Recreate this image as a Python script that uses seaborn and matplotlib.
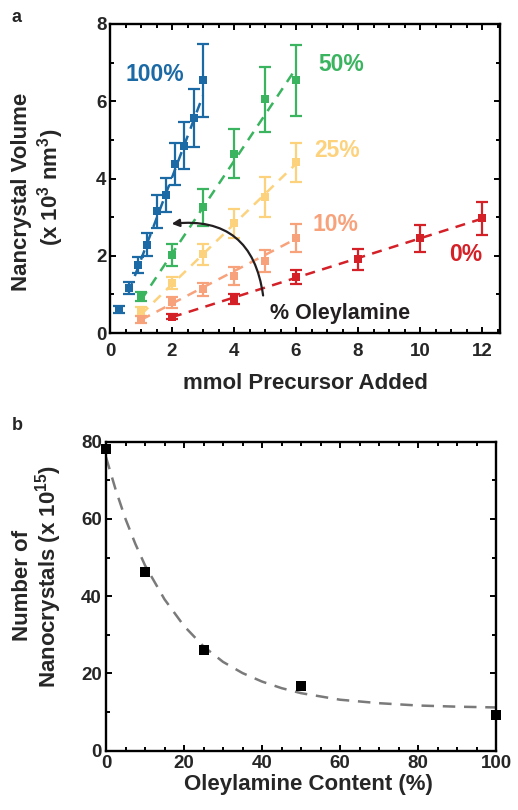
import numpy as np
import pandas as pd
import matplotlib
matplotlib.use("Agg")
import matplotlib.pyplot as plt
from matplotlib.ticker import MultipleLocator
from matplotlib.patches import FancyArrowPatch
import seaborn as sns

# ---------------- Data: panel a ----------------
x_100 = [0.3, 0.6, 0.9, 1.2, 1.5, 1.8, 2.1, 2.4, 2.7, 3.0]
y_100 = [0.62, 1.16, 1.76, 2.29, 3.15, 3.57, 4.38, 4.85, 5.56, 6.54]
e_100 = [0.09, 0.15, 0.21, 0.30, 0.42, 0.45, 0.55, 0.60, 0.75, 0.95]

x_50 = [1, 2, 3, 4, 5, 6]
y_50 = [0.94, 2.02, 3.25, 4.64, 6.05, 6.54]
e_50 = [0.12, 0.28, 0.48, 0.63, 0.84, 0.91]

x_25 = [1, 2, 3, 4, 5, 6]
y_25 = [0.55, 1.29, 2.04, 2.84, 3.53, 4.42]
e_25 = [0.12, 0.15, 0.27, 0.37, 0.52, 0.50]

x_10 = [1, 2, 3, 4, 5, 6]
y_10 = [0.35, 0.79, 1.13, 1.48, 1.87, 2.45]
e_10 = [0.10, 0.15, 0.17, 0.24, 0.29, 0.36]

x_0 = [2, 4, 6, 8, 10, 12]
y_0 = [0.42, 0.88, 1.44, 1.91, 2.45, 2.97]
e_0 = [0.07, 0.12, 0.18, 0.27, 0.34, 0.43]

# dashed fit lines (endpoints)
fit_100_x = [0.6, 3.0]
fit_100_y = [1.05, 6.15]
fit_50_x = [1.0, 6.0]
fit_50_y = [0.85, 6.85]
fit_25_x = [1.0, 6.0]
fit_25_y = [0.48, 4.38]
fit_10_x = [1.0, 6.0]
fit_10_y = [0.34, 2.44]
fit_0_x = [2.0, 12.0]
fit_0_y = [0.41, 2.96]

labels_a = ["100%", "50%", "25%", "10%", "0%"]

# ---------------- Data: panel b ----------------
ole_content = [0, 10, 25, 50, 100]
n_crystals = [78, 46.2, 26.1, 16.8, 9.3]
curve_x = [0, 2.5, 5, 7.5, 10, 15, 20, 25, 30, 35, 40, 45, 50, 60, 70, 80, 90, 100]
curve_y = [76, 67.5, 60, 53.6, 48, 39.2, 32.3, 27, 23, 20.1, 17.9, 16.2, 14.9, 13.2, 12.3, 11.7, 11.4, 11.2]

# ---------------- Style ----------------
sns.set_theme(style="ticks")
plt.rcParams["font.family"] = ["Liberation Sans", "DejaVu Sans"]
plt.rcParams["font.weight"] = "bold"
plt.rcParams["mathtext.fontset"] = "custom"
plt.rcParams["mathtext.rm"] = "Liberation Sans"
plt.rcParams["mathtext.it"] = "Liberation Sans:italic"
plt.rcParams["mathtext.bf"] = "Liberation Sans:bold"

BLUE = "#1b6aa5"
GREEN = "#3ab45f"
YELLOW = "#fdd27d"
SALMON = "#f8a27c"
RED = "#d42027"
DARK = "#231f20"

TICK_FS = 13.5
LABEL_FS = 16
PCT_FS = 16.5

fig = plt.figure(figsize=(5.18, 8.10), dpi=100)
fig.patch.set_facecolor("white")

W, H = 518.0, 810.0
axa = fig.add_axes([110 / W, 1 - 333 / H, 390 / W, 309 / H])
axb = fig.add_axes([106 / W, 1 - 750.7 / H, 390 / W, 309 / H])

def style_axes(ax, xpad, ypad):
    for s in ax.spines.values():
        s.set_linewidth(1.7)
        s.set_color("black")
    ax.tick_params(which="both", direction="in", top=True, right=True,
                   width=1.4, color="black")
    ax.tick_params(which="major", length=4.5, labelsize=TICK_FS)
    ax.tick_params(which="minor", length=3.2)
    ax.tick_params(axis="x", which="major", pad=xpad)
    ax.tick_params(axis="y", which="major", pad=ypad)
    for lab in ax.get_xticklabels() + ax.get_yticklabels():
        lab.set_fontweight("bold")
    ax.set_facecolor("white")
    ax.grid(False)

# ---------------- Panel a ----------------
series = [
    (x_100, y_100, e_100, fit_100_x, fit_100_y, BLUE),
    (x_50, y_50, e_50, fit_50_x, fit_50_y, GREEN),
    (x_25, y_25, e_25, fit_25_x, fit_25_y, YELLOW),
    (x_10, y_10, e_10, fit_10_x, fit_10_y, SALMON),
    (x_0, y_0, e_0, fit_0_x, fit_0_y, RED),
]
for xs, ys, es, fx, fy, col in series:
    sns.lineplot(x=fx, y=fy, ax=axa, color=col, lw=1.8,
                 linestyle=(0, (4, 3)), zorder=2)
    axa.errorbar(xs, ys, yerr=es, fmt="none", ecolor=col, elinewidth=1.6,
                 capsize=4, capthick=1.6, zorder=3)
    sns.scatterplot(x=xs, y=ys, ax=axa, color=col, marker="s", s=36,
                    linewidth=0, zorder=4)

axa.set_xlim(0, 12.58)
axa.set_ylim(0, 8)
axa.xaxis.set_major_locator(MultipleLocator(2))
axa.xaxis.set_minor_locator(MultipleLocator(0.5))
axa.yaxis.set_major_locator(MultipleLocator(2))
axa.yaxis.set_minor_locator(MultipleLocator(1))
style_axes(axa, xpad=7, ypad=2.5)
axa.set_xlabel("")
axa.set_ylabel("")

lab_pos = [(1.45, 6.68, BLUE), (7.47, 6.94, GREEN), (7.31, 4.72, YELLOW),
           (7.26, 2.80, SALMON), (11.48, 2.02, RED)]
for txt, (lx, ly, col) in zip(labels_a, lab_pos):
    axa.text(lx, ly, txt, color=col, fontsize=PCT_FS, fontweight="bold",
             ha="center", va="center")

axa.text(7.42, 0.51, "% Oleylamine", color=DARK, fontsize=15.5,
         fontweight="bold", ha="center", va="center")
arrow = FancyArrowPatch((4.95, 0.9), (1.9, 2.82),
                        connectionstyle="arc3,rad=0.5",
                        arrowstyle="-|>", mutation_scale=11,
                        color=DARK, lw=1.6, zorder=5)
axa.add_patch(arrow)

fig.text(305 / W, 1 - 389 / H, "mmol Precursor Added", fontsize=LABEL_FS,
         fontweight="bold", ha="center", va="baseline")
fig.text(22 / W, 1 - 192 / H, "Nancrystal Volume", rotation=90,
         fontsize=LABEL_FS, fontweight="bold", ha="center", va="center")
fig.text(51 / W, 1 - 187 / H, "(x 10$^{3}$ nm$^{3}$)", rotation=90,
         fontsize=LABEL_FS, fontweight="bold", ha="center", va="center")

# ---------------- Panel b ----------------
sns.lineplot(x=curve_x, y=curve_y, ax=axb, color="#7a7a7a", lw=1.8,
             linestyle=(0, (5, 3.5)), zorder=2)
sns.scatterplot(x=ole_content, y=n_crystals, ax=axb, color="black",
                marker="s", s=42, linewidth=0, zorder=4, clip_on=False)
axb.set_xlim(0, 100)
axb.set_ylim(0, 80)
axb.xaxis.set_major_locator(MultipleLocator(20))
axb.xaxis.set_minor_locator(MultipleLocator(5))
axb.yaxis.set_major_locator(MultipleLocator(20))
axb.yaxis.set_minor_locator(MultipleLocator(10))
style_axes(axb, xpad=3, ypad=3)
axb.set_xlabel("")
axb.set_ylabel("")

fig.text(308 / W, 1 - 790 / H, "Oleylamine Content (%)", fontsize=LABEL_FS,
         fontweight="bold", ha="center", va="baseline")
fig.text(22.5 / W, 1 - 585 / H, "Number of", rotation=90,
         fontsize=LABEL_FS, fontweight="bold", ha="center", va="center")
fig.text(49 / W, 1 - 576 / H, "Nanocrystals (x 10$^{15}$)", rotation=90,
         fontsize=LABEL_FS, fontweight="bold", ha="center", va="center")

fig.text(17 / W, 1 - 18 / H, "a", fontsize=13, fontweight="bold",
         ha="center", va="center")
fig.text(17 / W, 1 - 425 / H, "b", fontsize=13, fontweight="bold",
         ha="center", va="center")

fig.savefig("out.png", dpi=100, facecolor="white")
